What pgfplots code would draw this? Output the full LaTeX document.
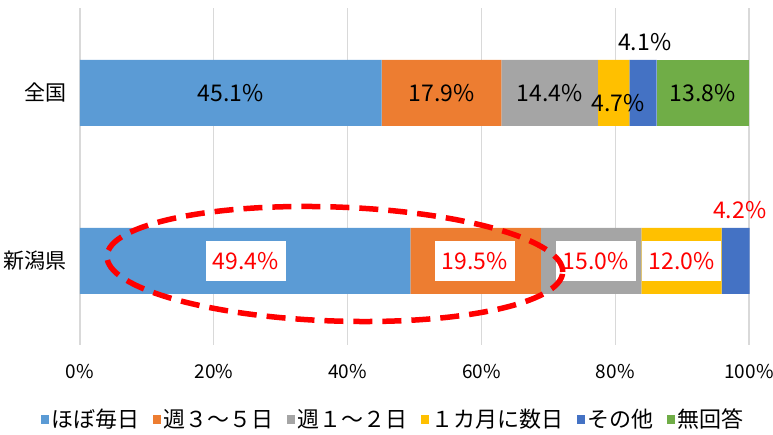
\documentclass[border=0pt]{standalone}
\usepackage{pgfplots}
\pgfplotsset{compat=1.18}
\usepackage{fontspec}
\setmainfont{Noto Sans CJK JP}
\definecolor{c1}{HTML}{5B9BD5}
\definecolor{c2}{HTML}{ED7D31}
\definecolor{c3}{HTML}{A5A5A5}
\definecolor{c4}{HTML}{FFC000}
\definecolor{c5}{HTML}{4472C4}
\definecolor{c6}{HTML}{70AD47}
\definecolor{gridc}{HTML}{D9D9D9}
\newcommand{\lbl}{\fontsize{23}{26}\selectfont}
\begin{document}
\begin{tikzpicture}
\clip (-80pt,-90pt) rectangle (693pt,345pt);
\begin{axis}[
  clip=false,
  scale only axis,
  width=669pt, height=337pt,
  xmin=0, xmax=100, ymin=0, ymax=337,
  xbar stacked, bar width=66pt,
  axis line style={draw=none},
  major tick length=0pt,
  xtick={0,20,40,60,80,100},
  xticklabels={0\%,20\%,40\%,60\%,80\%,100\%},
  xmajorgrids, grid style={gridc, line width=1.2pt},
  ytick={84,252},
  yticklabels={新潟県,全国},
  yticklabel style={font=\fontsize{21}{24}\selectfont, xshift=-10pt},
  xticklabel style={font=\fontsize{19}{22}\selectfont, yshift=-16pt},
  /pgf/number format/assume math mode=true,
  legend columns=6,
  legend style={draw=none, fill=none, at={(0.468,-0.22)}, anchor=center,
    font=\fontsize{22}{25}\selectfont,
    /tikz/every even column/.append style={column sep=12pt},
    nodes={inner sep=2pt}},
  legend image code/.code={\fill[#1,draw=none] (0pt,-5pt) rectangle (8pt,4pt);},
]
\addplot[fill=c1, draw=none] coordinates {(45.1,252) (49.4,84)};
\addplot[fill=c2, draw=none] coordinates {(17.9,252) (19.5,84)};
\addplot[fill=c3, draw=none] coordinates {(14.4,252) (15.0,84)};
\addplot[fill=c4, draw=none] coordinates {(4.7,252) (12.0,84)};
\addplot[fill=c5, draw=none] coordinates {(4.1,252) (4.2,84)};
\addplot[fill=c6, draw=none] coordinates {(13.8,252)};
\legend{ほぼ毎日,週３～５日,週１～２日,１カ月に数日,その他,無回答}
\coordinate (L1) at (axis cs:22.55,252);
\coordinate (L2) at (axis cs:54.05,252);
\coordinate (L3) at (axis cs:70.2,252);
\coordinate (L4) at (axis cs:80.4,242);
\coordinate (L5) at (axis cs:84.4,303);
\coordinate (L6) at (axis cs:93.1,252);
\coordinate (N1) at (axis cs:24.8,84);
\coordinate (N2) at (axis cs:59.0,84);
\coordinate (N3) at (axis cs:77.1,84);
\coordinate (N4) at (axis cs:89.9,84);
\coordinate (N5) at (axis cs:98.6,135);
\coordinate (E) at (axis cs:38.1,81);
\end{axis}
\node[font=\lbl] at (L1) {45.1\%};
\node[font=\lbl] at (L2) {17.9\%};
\node[font=\lbl] at (L3) {14.4\%};
\node[font=\lbl] at (L4) {4.7\%};
\node[font=\lbl] at (L5) {4.1\%};
\node[font=\lbl] at (L6) {13.8\%};
\tikzset{wb/.style={font=\lbl, text=red, fill=white, inner xsep=7pt, minimum height=40pt}}
\node[wb] at (N1) {49.4\%};
\node[wb] at (N2) {19.5\%};
\node[wb] at (N3) {15.0\%};
\node[wb] at (N4) {12.0\%};
\node[font=\lbl, text=red] at (N5) {4.2\%};
\draw[red, line width=5.5pt, dash pattern=on 19pt off 10pt, rotate around={-2:(E)}]
  (E) ellipse [x radius=228pt, y radius=57pt];
\end{tikzpicture}
\end{document}
